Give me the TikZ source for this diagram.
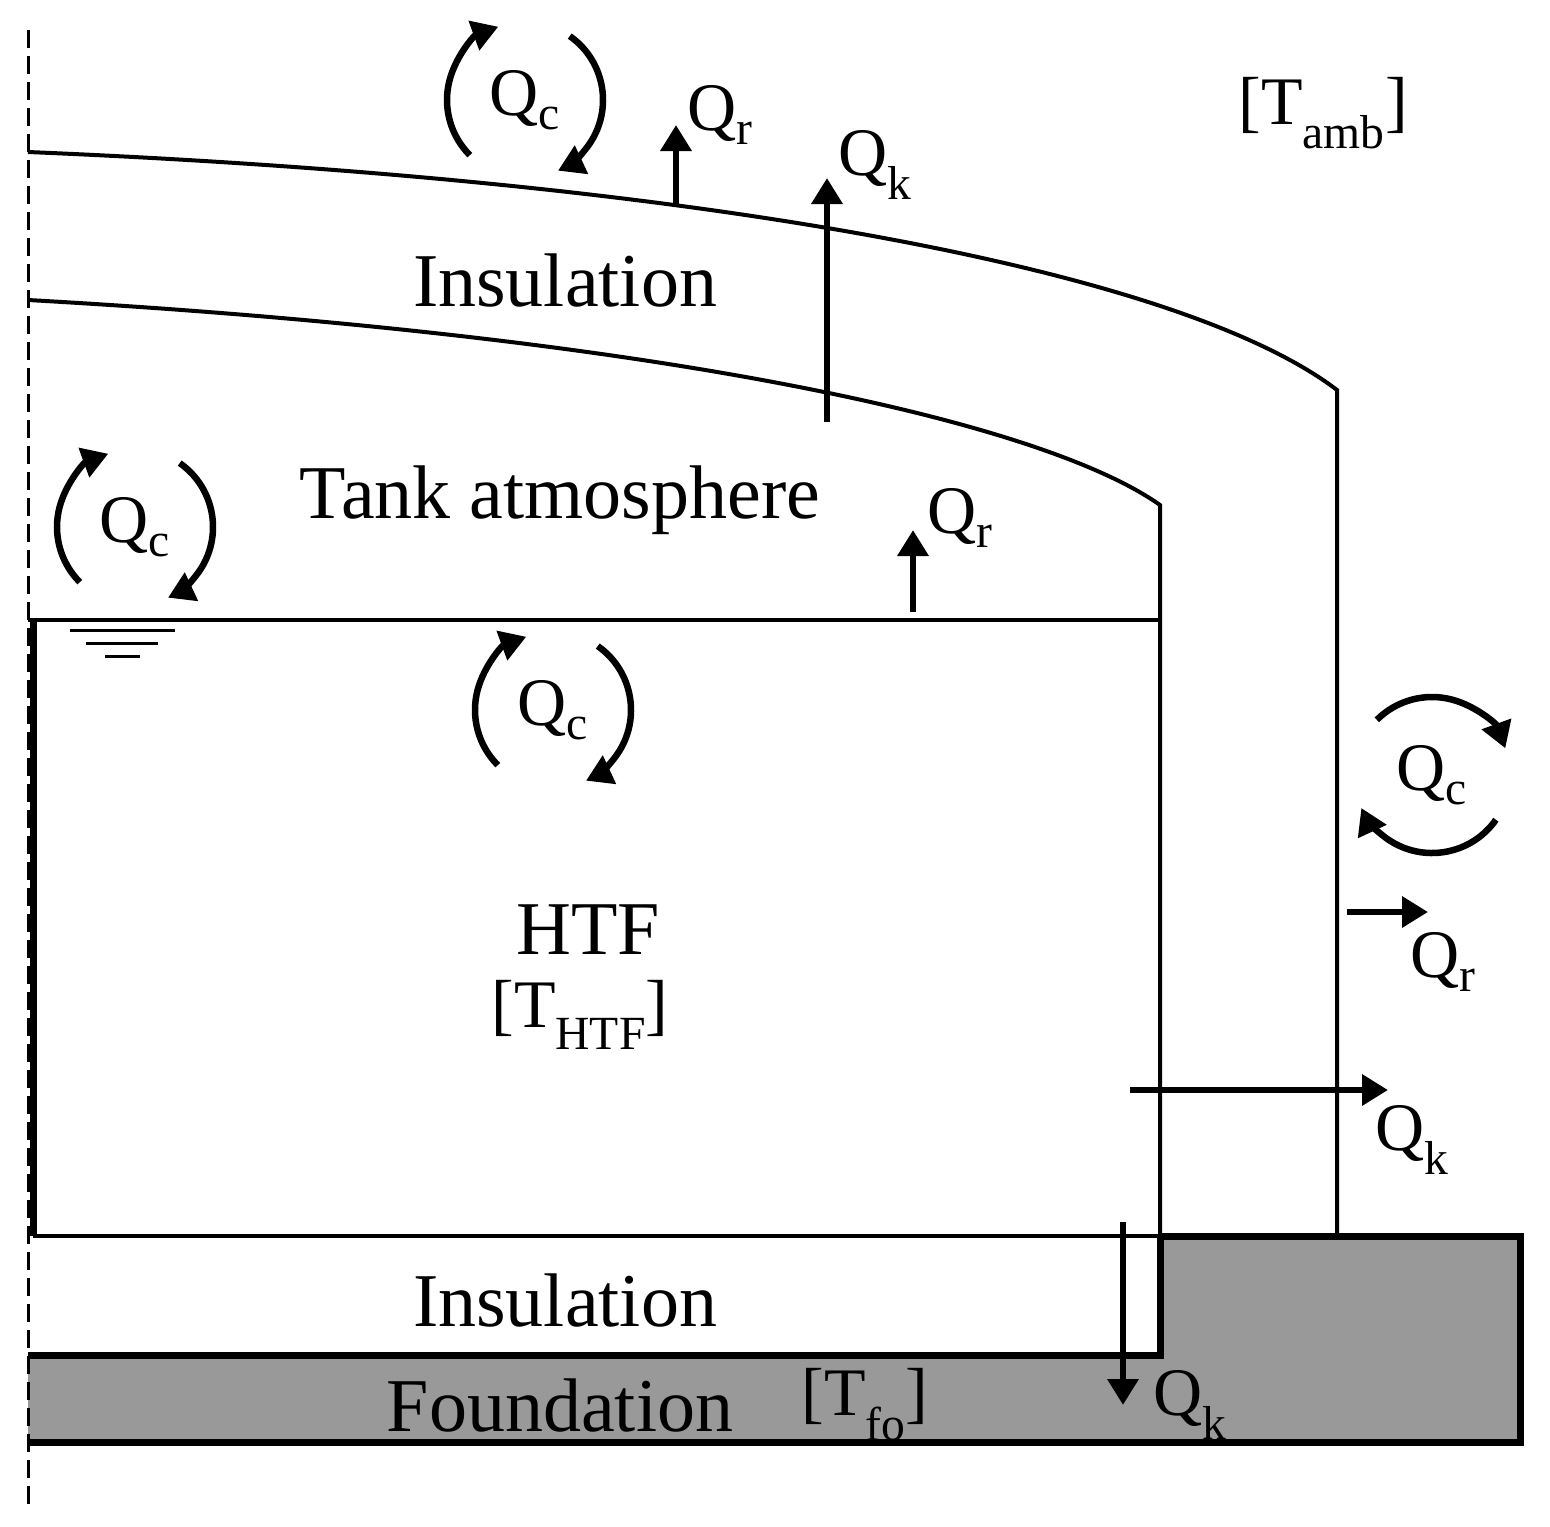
\documentclass[tikz,border=0pt]{standalone}
\usepackage{fontspec}
\setmainfont{Liberation Serif}
\usetikzlibrary{arrows.meta}
\begin{document}
\begin{tikzpicture}[x=1pt,y=1pt,
  thin line/.style={line width=4pt},
  thick line/.style={line width=7pt},
  flux/.style={line width=6.5pt,-{Triangle[length=26pt,width=30pt]}},
  lbl/.style={font=\fontsize{76}{76}\selectfont,inner sep=0pt},
  q/.style={font=\fontsize{68}{68}\selectfont,inner sep=0pt},
  pics/circ/.style={code={
    \draw[flux] (225:78) arc[start angle=225,end angle=110,radius=78];
    \draw[flux] (55:78) arc[start angle=55,end angle=-65,radius=78];
  }}]
\useasboundingbox (0,0) rectangle (1550,-1526);
% foundation
\fill[gray!80] (28,-1355) -- (1160,-1355) -- (1160,-1236) -- (1520,-1236) -- (1520,-1442) -- (28,-1442) -- cycle;
\draw[thick line] (28,-1355) -- (1160,-1355) -- (1160,-1236) (1160,-1236) -- (1520,-1236) -- (1520,-1442) -- (28,-1442);
% dashed axis
\draw[line width=3pt,dash pattern=on 18pt off 8pt] (28,-30) -- (28,-1505);
% outer dome
\draw[thin line] (28,-152) .. controls (700,-180) and (1180,-270) .. (1337,-390) -- (1337,-1236);
% inner dome
\draw[thin line] (28,-300) .. controls (650,-335) and (1040,-420) .. (1160,-505) -- (1160,-1236);
% liquid level and HTF box
\draw[thin line] (28,-620) -- (1160,-620);
\draw[thick line] (33,-620) -- (33,-1236);
\draw[thin line] (33,-1236) -- (1160,-1236);
% ground symbol
\draw[line width=3pt] (70,-630) -- (175,-630) (86,-643) -- (158,-643) (105,-656) -- (140,-656);
% circulations
\pic at (525,-100) {circ};
\pic at (135,-527) {circ};
\pic at (553,-710) {circ};
\pic[rotate=-90] at (1432,-775) {circ};
\node[q] (qc1) at (525,-100) {Q\textsubscript{c}};
\node[q] (qc2) at (135,-527) {Q\textsubscript{c}};
\node[q] (qc3) at (553,-710) {Q\textsubscript{c}};
\node[q] (qc4) at (1432,-775) {Q\textsubscript{c}};
% radiation
\coordinate (r1a) at (676,-207); \coordinate (r1b) at (676,-125);
\draw[flux] (r1a) -- (r1b);
\node[q] (qr1) at (720,-115) {Q\textsubscript{r}};
\coordinate (r2a) at (913,-612); \coordinate (r2b) at (913,-530);
\draw[flux] (r2a) -- (r2b);
\node[q] (qr2) at (960,-518) {Q\textsubscript{r}};
\coordinate (r3a) at (1347,-912); \coordinate (r3b) at (1428,-912);
\draw[flux] (r3a) -- (r3b);
\node[q] (qr3) at (1443,-962) {Q\textsubscript{r}};
% conduction
\coordinate (k1a) at (827,-422); \coordinate (k1b) at (827,-178);
\draw[flux] (k1a) -- (k1b);
\node[q] (qk1) at (875,-165) {Q\textsubscript{k}};
\coordinate (k2a) at (1130,-1090); \coordinate (k2b) at (1388,-1090);
\draw[flux] (k2a) -- (k2b);
\node[q] (qk2) at (1412,-1140) {Q\textsubscript{k}};
\coordinate (k3a) at (1123,-1222); \coordinate (k3b) at (1123,-1405);
\draw[flux] (k3a) -- (k3b);
\node[q] (qk3) at (1190,-1405) {Q\textsubscript{k}};
% labels
\node[lbl] (ins1) at (565,-280) {Insulation};
\node[lbl] (atm) at (560,-500) {Tank atmosphere};
\node[lbl] (htf) at (588,-930) {HTF};
\node[q] (thtf) at (580,-1015) {[T\textsubscript{HTF}]};
\node[lbl] (ins2) at (565,-1300) {Insulation};
\node[lbl] (fnd) at (560,-1405) {Foundation};
\node[q] (tfo) at (865,-1405) {[T\textsubscript{fo}]};
\node[q] (tamb) at (1323,-113) {[T\textsubscript{amb}]};
\end{tikzpicture}
\end{document}
